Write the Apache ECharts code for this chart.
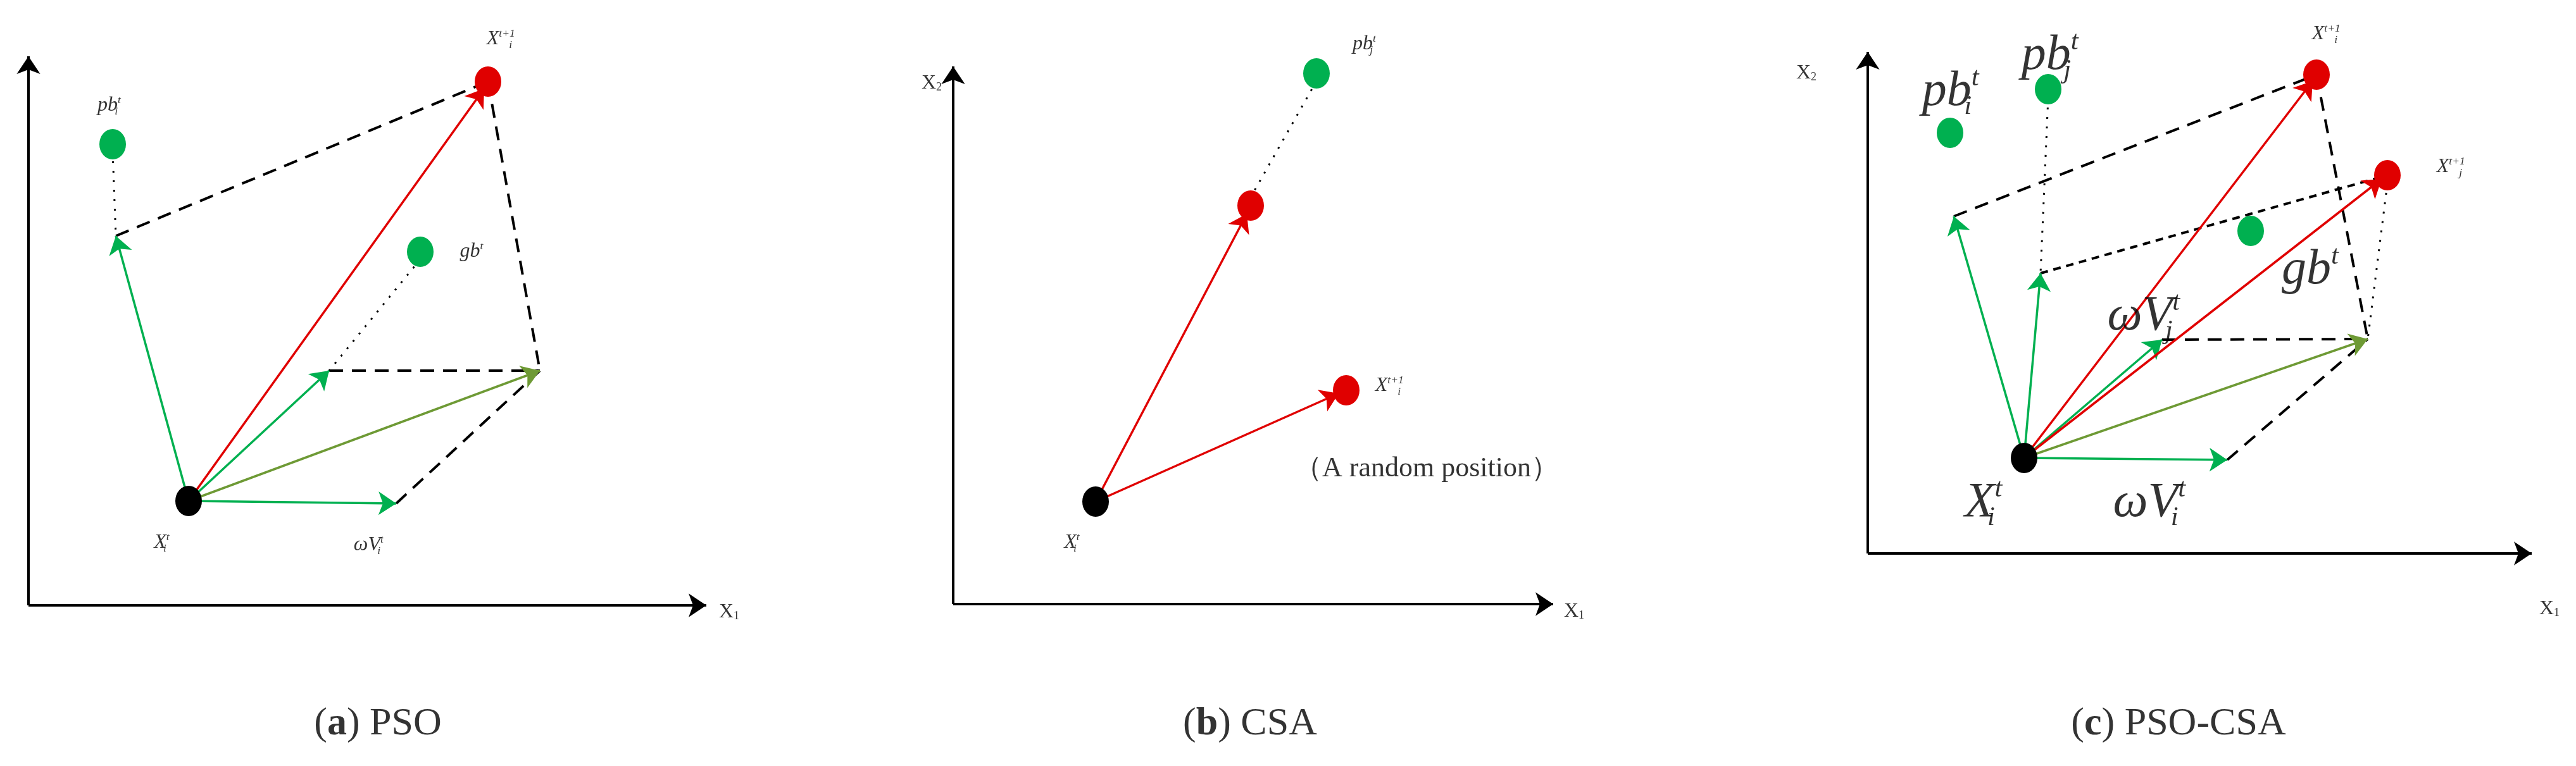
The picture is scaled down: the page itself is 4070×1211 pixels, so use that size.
<!DOCTYPE html>
<html>
<head>
<meta charset="utf-8">
<script src="https://cdn.jsdelivr.net/npm/echarts@6/dist/echarts.min.js"></script>
<style>
  html, body { margin: 0; padding: 0; background: #fff; }
  #main { width: 4070px; height: 1211px; }
</style>
</head>
<body>
<div id="main"></div>
<script>
// positions in picture space (x to the right, y downwards)
const axisLines = [
  [[45, 957], [45, 89]], [[45, 957], [1116, 957]],
  [[1506, 955], [1506, 105]], [[1506, 955], [2454, 955]],
  [[2951, 875], [2951, 82]], [[2951, 875], [4000, 875]]
]
const greenArrows = [
  [[298, 792], [183, 373]], [[298, 792], [520, 586]], [[298, 792], [626, 796]],
  [[3198, 724], [3087, 342]], [[3198, 724], [3224, 432]], [[3198, 724], [3416, 537]], [[3198, 724], [3519, 727]]
]
const oliveArrows = [
  [[298, 792], [853, 586]], [[3198, 724], [3741, 536]]
]
const redArrows = [
  [[298, 792], [765, 140]],
  [[1731, 793], [1970, 338]], [[1731, 793], [2115, 622]],
  [[3198, 724], [3654, 128]], [[3198, 724], [3763, 283]]
]
const dashedLines = [
  [[183, 373], [771, 129]], [[771, 129], [853, 586]], [[520, 586], [853, 586]], [[626, 796], [853, 586]],
  [[3087, 342], [3660, 118]], [[3660, 118], [3741, 536]], [[3416, 537], [3741, 536]], [[3519, 727], [3741, 536]]
]
const shortDashed = [
  [[3224, 432], [3772, 277]]
]
const dottedLines = [
  [[178, 240], [183, 373]], [[664, 410], [520, 586]],
  [[2080, 128], [1976, 312]],
  [[3236, 155], [3224, 432]], [[3772, 290], [3741, 536]]
]
const blackPts = [[298, 792], [1731, 793], [3198, 724]]
const redPts = [[771, 129], [1976, 325], [2127, 617], [3660, 118], [3772, 277]]
const greenPts = [[178, 228], [664, 398], [2080, 116], [3081, 210], [3236, 141], [3556, 365]]

// italic math labels: [x, y, main, sup, sub]
const smallLabels = [
  [789, 62, 'X', 't+1', 'i'], [170, 167, 'pb', 't', 'i'], [745, 398, 'gb', 't', ''],
  [253, 858, 'X', 't', 'i'], [580, 862, 'ωV', 't', 'i'],
  [2153, 70, 'pb', 't', 'j'], [2193, 610, 'X', 't+1', 'i'], [1691, 858, 'X', 't', 'i'],
  [3673, 54, 'X', 't+1', 'i'], [3870, 264, 'X', 't+1', 'j']
]
const bigLabels = [
  [3076, 145, 'pb', 't', 'i'], [3233, 88, 'pb', 't', 'j'], [3650, 427, 'gb', 't', ''],
  [3381, 500, 'ωV', 't', 'j'], [3128, 795, 'X', 't', 'i'], [3390, 795, 'ωV', 't', 'i']
]
const axisNames = [
  [1152, 968, 'X', '1'], [1472, 132, 'X', '2'], [2487, 967, 'X', '1'],
  [2854, 116, 'X', '2'], [4028, 963, 'X', '1']
]
const captions = [[597, 1145, 'a', 'PSO'], [1975, 1145, 'b', 'CSA'], [3442, 1145, 'c', 'PSO-CSA']]
const noteLabel = [2254, 741, '（A random position）']

const serif = '"Liberation Serif", "DejaVu Serif", serif'

function linesSeries (list, color, width, type, arrow) {
  return {
    type: 'lines', coordinateSystem: 'cartesian2d', silent: true, z: 2,
    symbol: arrow ? ['none', 'arrow'] : ['none', 'none'], symbolSize: arrow ? 28 : 0,
    lineStyle: { color: color, width: width, type: type, opacity: 1 },
    data: list.map(c => ({ coords: c }))
  }
}
function dots (list, color) {
  return {
    type: 'scatter', silent: true, z: 3, symbol: 'circle',
    symbolSize: [42, 48], itemStyle: { color: color, opacity: 1 }, data: list
  }
}
function mathLabels (list, size) {
  return {
    type: 'scatter', silent: true, symbolSize: 0, z: 4,
    data: list.map(l => ({ value: [l[0], l[1]], t: l })),
    label: {
      show: true, position: 'inside', fontFamily: serif, color: '#000',
      formatter: p => '{m|' + p.data.t[2] + '}' + '{s|' + p.data.t[3] + '}' + (p.data.t[4] ? '{b|' + p.data.t[4] + '}' : ''),
      rich: {
        m: { fontSize: size, fontStyle: 'italic', fontFamily: serif, color: '#000' },
        s: { fontSize: size * 0.55, fontStyle: 'italic', fontFamily: serif, color: '#000', padding: [0, 0, size * 0.55, 0] },
        b: { fontSize: size * 0.55, fontStyle: 'italic', fontFamily: serif, color: '#000', padding: [size * 0.6, 0, 0, -size * 0.3] }
      }
    }
  }
}

const chart = echarts.init(document.getElementById('main'))
chart.setOption({
  backgroundColor: '#fff',
  animation: false,
  grid: { left: 0, right: 0, top: 0, bottom: 0 },
  xAxis: { type: 'value', min: 0, max: 4070, show: false },
  yAxis: { type: 'value', min: 0, max: 1211, inverse: true, show: false },
  series: [
    linesSeries(axisLines, '#000', 4, 'solid', true),
    linesSeries(dashedLines, '#000', 4, [22, 14], false),
    linesSeries(shortDashed, '#000', 4, [12, 9], false),
    linesSeries(dottedLines, '#000', 3, [3, 12], false),
    linesSeries(greenArrows, '#00b050', 3.5, 'solid', true),
    linesSeries(oliveArrows, '#6e9a35', 3.5, 'solid', true),
    linesSeries(redArrows, '#e00000', 3.5, 'solid', true),
    dots(blackPts, '#000'),
    dots(redPts, '#e00000'),
    dots(greenPts, '#00b050'),
    mathLabels(smallLabels, 32),
    mathLabels(bigLabels, 78),
    {
      type: 'scatter', silent: true, symbolSize: 0, z: 4,
      data: axisNames.map(l => ({ value: [l[0], l[1]], t: l })),
      label: {
        show: true, position: 'inside', fontFamily: serif, color: '#000',
        formatter: p => '{m|' + p.data.t[2] + '}{b|' + p.data.t[3] + '}',
        rich: {
          m: { fontSize: 32, fontFamily: serif, color: '#000' },
          b: { fontSize: 18, fontFamily: serif, color: '#000', padding: [12, 0, 0, 0] }
        }
      }
    },
    {
      type: 'scatter', silent: true, symbolSize: 0, z: 4,
      data: captions.map(l => ({ value: [l[0], l[1]], t: l })),
      label: {
        show: true, position: 'inside', color: '#000',
        formatter: p => '{n|(}{a|' + p.data.t[2] + '}{n|) ' + p.data.t[3] + '}',
        rich: {
          a: { fontSize: 62, fontFamily: serif, fontWeight: 'bold', color: '#000' },
          n: { fontSize: 62, fontFamily: serif, color: '#000' }
        }
      }
    },
    {
      type: 'scatter', silent: true, symbolSize: 0, z: 4,
      data: [[noteLabel[0], noteLabel[1]]],
      label: { show: true, position: 'inside', formatter: noteLabel[2], fontSize: 44, fontFamily: serif, color: '#000' }
    }
  ]
})
</script>
</body>
</html>
